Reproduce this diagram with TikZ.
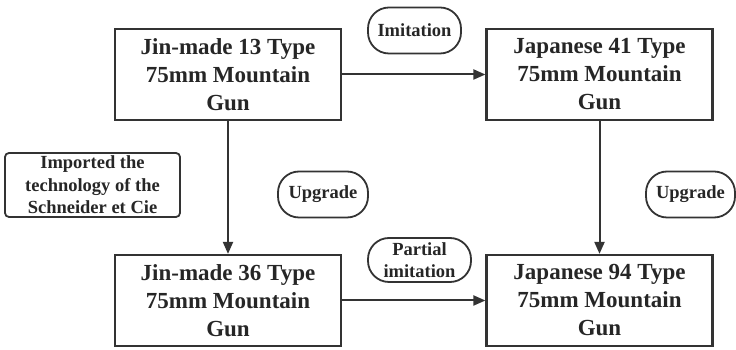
\documentclass[tikz,border=0pt]{standalone}
\usepackage{fontspec}
\setmainfont{Liberation Serif}[BoldFont={Liberation Serif Bold}]
\newfontfamily\labelfont{Liberation Serif}[BoldFont={Liberation Serif Bold}]
\usepackage{tikz}
\usetikzlibrary{arrows.meta,positioning}

\begin{document}
\begin{tikzpicture}[x=1pt,y=1pt,
  gun/.style={draw=black!80,line width=2.2pt,align=center,text=black!85,inner sep=0pt,
    font=\labelfont\fontsize{23}{28}\selectfont\bfseries,minimum width=226pt,minimum height=91pt},
  pill/.style={draw=black!80,line width=1.8pt,rounded corners=21pt,align=center,text=black!85,inner sep=0pt,
    font=\labelfont\fontsize{18.5}{22.5}\selectfont\bfseries,minimum height=46pt},
  note/.style={pill,rounded corners=4pt,inner sep=0pt},
  arr/.style={-{Triangle[length=12pt,width=10pt]},draw=black!80,line width=2pt}]
\useasboundingbox (0,0) rectangle (736,350);
\node[gun] (j13) at (228,275.5) {Jin-made 13 Type\\75mm Mountain\\Gun};
\node[gun] (j41) at (599.5,275.5) {Japanese 41 Type\\75mm Mountain\\Gun};
\node[gun] (j36) at (228,49.5) {Jin-made 36 Type\\75mm Mountain\\Gun};
\node[gun] (j94) at (599.5,49.5) {Japanese 94 Type\\75mm Mountain\\Gun};
\node[pill,minimum width=93pt] (imit) at (414.5,319.5) {Imitation};
\node[note,minimum width=175pt,minimum height=64pt] (tech) at (92.5,165) {Imported the\\technology of the\\Schneider et Cie};
\node[pill,minimum width=90pt] (upl) at (323,155.5) {Upgrade};
\node[pill,minimum width=89pt] (upr) at (690.5,155.5) {Upgrade};
\node[pill,minimum width=103pt,minimum height=44pt] (part) at (419.5,90) {Partial\\imitation};
\foreach \a/\b in {j13/j41,j36/j94} \draw[arr] (\a.east)--(\b.west);
\foreach \a/\b in {j13/j36,j41/j94} \draw[arr] (\a.south)--(\b.north);
\end{tikzpicture}
\end{document}
